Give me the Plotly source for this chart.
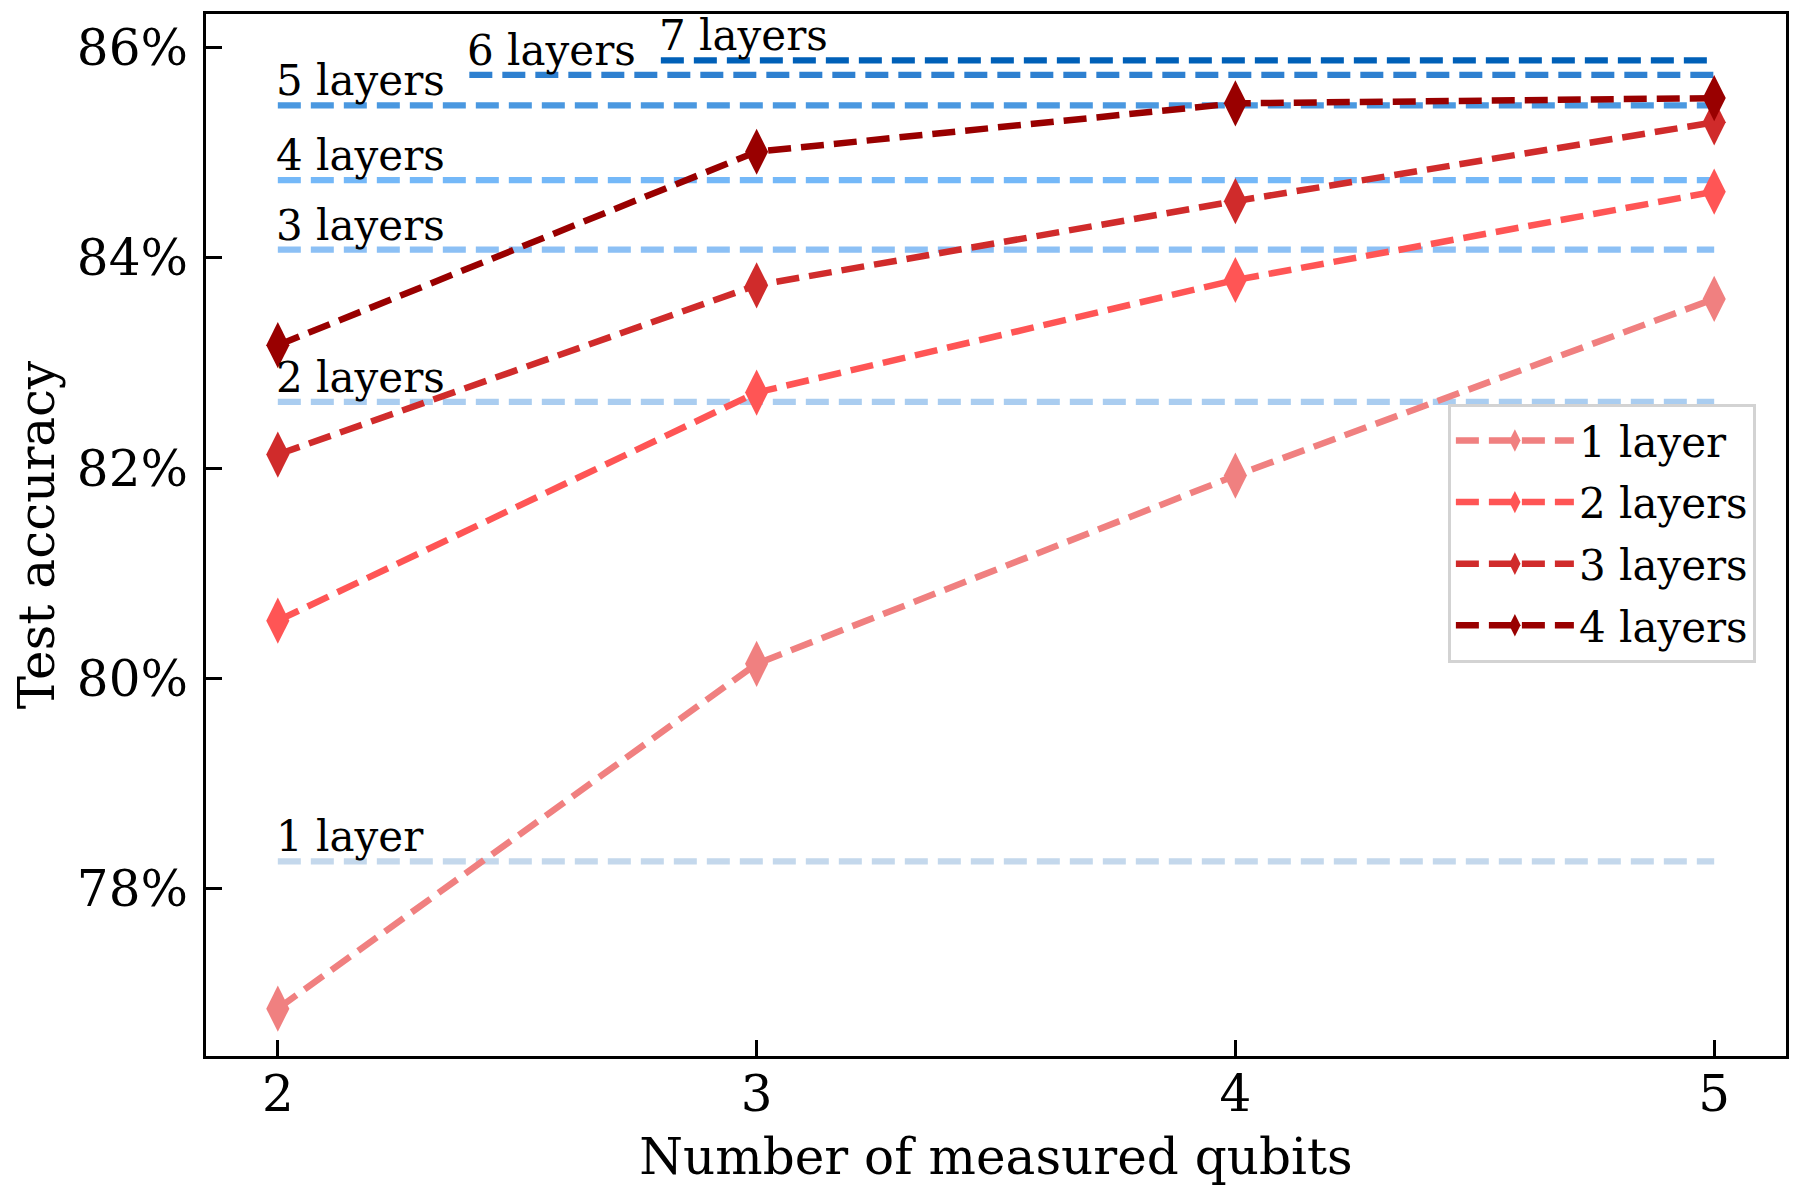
import plotly.graph_objects as go

# Data
qubits = [2, 3, 4, 5]
acc_1_layer = [76.86, 80.14, 81.93, 83.61]
acc_2_layers = [80.55, 82.72, 83.79, 84.63]
acc_3_layers = [82.13, 83.74, 84.54, 85.29]
acc_4_layers = [83.17, 85.01, 85.47, 85.52]
series_names = ["1 layer", "2 layers", "3 layers", "4 layers"]

baseline_names = ["1 layer", "2 layers", "3 layers", "4 layers", "5 layers", "6 layers", "7 layers"]
baseline_acc = [78.26, 82.63, 84.08, 84.74, 85.45, 85.74, 85.88]
baseline_x_start = [2, 2, 2, 2, 2, 2.4, 2.8]
baseline_x_end = [5, 5, 5, 5, 5, 5, 5]

y_ticks = [78, 80, 82, 84, 86]
x_ticks = [2, 3, 4, 5]

red_colors = ["#f08080", "#ff5555", "#d02b2b", "#990000"]
blue_colors = ["#c4d8ec", "#aacdf0", "#8cc0f5", "#74b8f8", "#4a98e0", "#2e80d0", "#0060b8"]

FONT = "DejaVu Serif"
DASH = "23px,10px"

fig = go.Figure()

for name, acc, x0, x1, col in zip(baseline_names, baseline_acc, baseline_x_start, baseline_x_end, blue_colors):
    fig.add_trace(go.Scatter(
        x=[x0, x1], y=[acc, acc], mode="lines",
        line=dict(color=col, width=6.25, dash=DASH),
        showlegend=False, hoverinfo="skip",
    ))
    fig.add_annotation(
        x=x0, y=acc, text=name, showarrow=False,
        xanchor="left", yanchor="bottom", xshift=-4, yshift=-2,
        font=dict(family=FONT, size=42, color="black"),
    )

for i, (name, acc, col) in enumerate(zip(series_names, [acc_1_layer, acc_2_layers, acc_3_layers, acc_4_layers], red_colors)):
    fig.add_trace(go.Scatter(
        x=qubits, y=acc, mode="lines+markers", name=name,
        line=dict(color=col, width=6.5, dash=DASH),
        marker=dict(symbol="diamond-tall", size=33, color=col, line=dict(width=0)),
        legendgroup=f"g{i}",
    ))

fig.update_layout(
    width=1800, height=1200,
    margin=dict(l=198, r=22, t=6, b=152),
    plot_bgcolor="white", paper_bgcolor="white",
    font=dict(family=FONT, size=50, color="black"),
    showlegend=True,
    legend=dict(
        x=0.786, y=0.626, xanchor="left", yanchor="top",
        bgcolor="white", bordercolor="#d3d3d3", borderwidth=3,
        font=dict(family=FONT, size=42, color="black"),
        tracegroupgap=4, itemwidth=118,
    ),
)

fig.update_xaxes(
    range=[1.85, 5.15], tickvals=x_ticks, ticktext=[str(v) for v in x_ticks],
    showgrid=False, zeroline=False, automargin=False,
    showline=True, linecolor="black", linewidth=3, mirror=True,
    ticks="inside", ticklen=16, tickwidth=2.5, tickcolor="black",
    ticklabelstandoff=-8,
    tickfont=dict(family=FONT, size=50),
    title=dict(text="Number of measured qubits", font=dict(family=FONT, size=50), standoff=17),
)
fig.update_yaxes(
    range=[76.41, 86.32], tickvals=y_ticks, ticktext=[f"{v}%" for v in y_ticks],
    showgrid=False, zeroline=False, automargin=False,
    showline=True, linecolor="black", linewidth=3, mirror=True,
    ticks="inside", ticklen=16, tickwidth=2.5, tickcolor="black",
    ticklabelstandoff=5,
    tickfont=dict(family=FONT, size=50),
    title=dict(text="Test accuracy", font=dict(family=FONT, size=50), standoff=34),
)

fig.write_html("out.html")
